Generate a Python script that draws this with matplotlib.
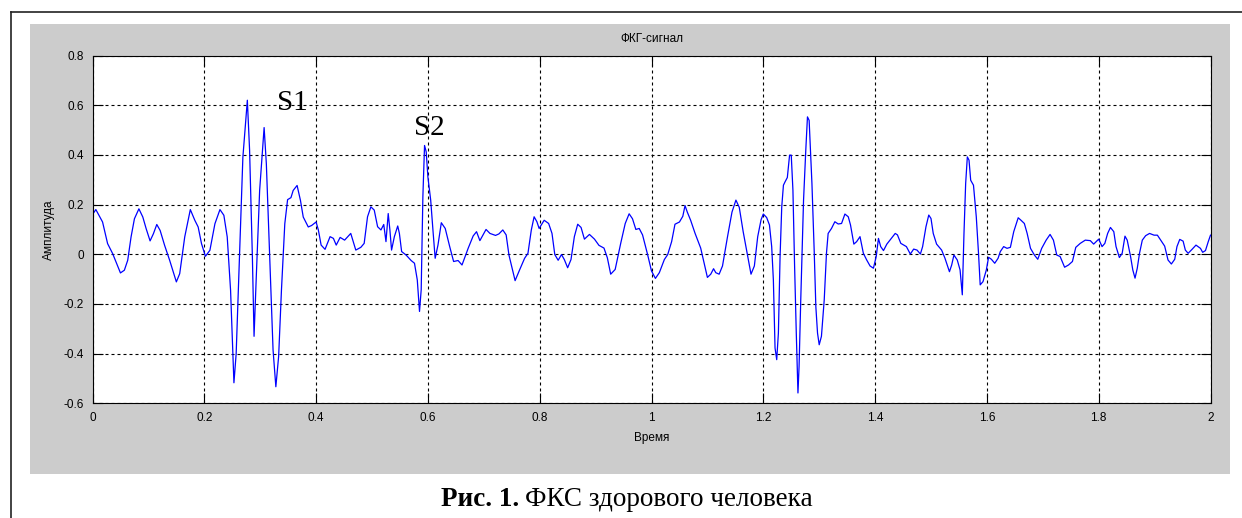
import matplotlib
matplotlib.use("Agg")
import matplotlib.pyplot as plt
from matplotlib.patches import Rectangle
from matplotlib.lines import Line2D

# PCG signal (time in s, amplitude)
time = [0, 0.006, 0.018, 0.027, 0.036, 0.042, 0.05, 0.057, 0.063, 0.069, 0.075, 0.083, 0.09, 0.096,
        0.103, 0.109, 0.115, 0.121, 0.129, 0.138, 0.15, 0.156, 0.165, 0.175, 0.183, 0.189, 0.195,
        0.202, 0.21, 0.219, 0.228, 0.235, 0.241, 0.247, 0.253, 0.257, 0.263, 0.269, 0.277, 0.281,
        0.286, 0.289, 0.293, 0.299, 0.307, 0.311, 0.317, 0.323, 0.328, 0.333, 0.338, 0.344, 0.349,
        0.355, 0.359, 0.366, 0.372, 0.377, 0.386, 0.392, 0.4,
        0.404, 0.409, 0.416, 0.425, 0.431, 0.436, 0.443, 0.451, 0.462, 0.471, 0.48, 0.486, 0.492,
        0.498, 0.504, 0.51, 0.516, 0.521, 0.525, 0.529, 0.532, 0.535, 0.54, 0.546, 0.549, 0.553,
        0.561, 0.57, 0.576, 0.581, 0.585, 0.588, 0.591, 0.594, 0.597, 0.6, 0.605, 0.609, 0.613,
        0.618, 0.624, 0.631, 0.639, 0.646, 0.654, 0.661, 0.672, 0.681, 0.687, 0.693, 0.704, 0.711,
        0.721, 0.727, 0.734, 0.74, 0.745, 0.756, 0.764, 0.773, 0.779, 0.785, 0.79, 0.795, 0.799,
        0.808, 0.816, 0.822, 0.827, 0.833, 0.839, 0.844, 0.85, 0.856, 0.862, 0.868, 0.874, 0.88,
        0.889, 0.898, 0.906, 0.915, 0.921, 0.927, 0.935, 0.945, 0.953, 0.96, 0.966, 0.972, 0.978,
        0.984, 0.993, 1.0, 1.007, 1.014, 1.023, 1.029, 1.036, 1.042, 1.05, 1.056, 1.06, 1.064,
        1.07, 1.078, 1.088, 1.094, 1.1, 1.106, 1.111, 1.115, 1.121, 1.127, 1.136, 1.144, 1.151,
        1.157, 1.164, 1.172, 1.178, 1.184, 1.19, 1.196,
        1.2, 1.206, 1.211, 1.215, 1.218, 1.221, 1.224, 1.227, 1.23, 1.233, 1.236, 1.239, 1.243,
        1.247, 1.25, 1.253, 1.256, 1.259, 1.262, 1.264, 1.267, 1.272, 1.276, 1.279, 1.282, 1.287,
        1.291, 1.294, 1.297, 1.3, 1.304, 1.309, 1.313, 1.316, 1.322, 1.328, 1.334, 1.34, 1.346,
        1.352, 1.356, 1.362, 1.367, 1.373, 1.379, 1.385, 1.391, 1.397, 1.402, 1.406, 1.41, 1.415,
        1.421, 1.429, 1.436, 1.44, 1.446, 1.456, 1.463, 1.469, 1.475, 1.481, 1.485, 1.491, 1.496,
        1.5, 1.504, 1.51, 1.519, 1.525, 1.533, 1.537, 1.541, 1.547, 1.552, 1.556, 1.559, 1.562,
        1.565, 1.568, 1.571, 1.576, 1.581, 1.585, 1.588, 1.593, 1.599,
        1.603, 1.608, 1.614, 1.62, 1.624, 1.63, 1.636, 1.642, 1.648, 1.656, 1.661, 1.667, 1.672,
        1.678, 1.685, 1.691, 1.698, 1.706, 1.713, 1.719, 1.725, 1.731, 1.739, 1.746, 1.753, 1.759,
        1.767, 1.776, 1.785, 1.791, 1.8, 1.806, 1.811, 1.816, 1.821, 1.827, 1.831, 1.837, 1.842,
        1.847, 1.851, 1.857, 1.861, 1.865, 1.869, 1.873, 1.878, 1.884, 1.891, 1.899, 1.905, 1.911,
        1.918, 1.924, 1.93, 1.936, 1.94, 1.945, 1.951, 1.955, 1.96, 1.967, 1.974, 1.982, 1.986,
        1.991, 1.996, 2.0]
amplitude = [0.16, 0.18, 0.13, 0.043, 0.003, -0.03, -0.075, -0.064, -0.024, 0.07, 0.143, 0.183, 0.15, 0.103,
             0.054, 0.083, 0.12, 0.096, 0.036, -0.024, -0.111, -0.078, 0.07, 0.18, 0.137, 0.11, 0.043,
             -0.008, 0.016, 0.123, 0.18, 0.157, 0.07, -0.145, -0.517, -0.4, -0.01, 0.39, 0.62, 0.42,
             -0.01, -0.33, -0.09, 0.257, 0.51, 0.364, -0.01, -0.385, -0.533, -0.41, -0.145, 0.123, 0.22,
             0.228, 0.257, 0.277, 0.217, 0.15, 0.11, 0.116, 0.13,
             0.098, 0.037, 0.02, 0.071, 0.064, 0.037, 0.068, 0.057, 0.084, 0.017, 0.028, 0.044, 0.151,
             0.191, 0.178, 0.111, 0.098, 0.12, 0.051, 0.164, 0.098, 0.017, 0.071, 0.114, 0.084, 0.011,
             -0.003, -0.025, -0.036, -0.103, -0.23, -0.143, 0.231, 0.438, 0.412, 0.311, 0.218, 0.098, -0.016,
             0.037, 0.127, 0.104, 0.031, -0.029, -0.025, -0.043, 0.024, 0.074, 0.091, 0.055, 0.1, 0.084,
             0.076, 0.082, 0.098, 0.078, -0.003, -0.106, -0.063, -0.016, 0.004, 0.098, 0.151, 0.131, 0.104,
             0.137, 0.124, 0.084, -0.001, -0.024, -0.001, -0.021, -0.054, -0.021, 0.071, 0.121, 0.108, 0.061,
             0.08, 0.061, 0.036, 0.025, -0.014, -0.08, -0.061, 0.045, 0.124, 0.163, 0.143, 0.1, 0.104,
             0.078, -0.001, -0.067, -0.097, -0.074, -0.021, -0.001, 0.051, 0.121, 0.13, 0.153, 0.196, 0.17,
             0.137, 0.084, 0.025, -0.034, -0.093, -0.08, -0.058, -0.074, -0.08, -0.047, 0.071, 0.17, 0.218,
             0.189, 0.091, -0.008, -0.08, -0.047, 0.071, 0.139,
             0.162, 0.148, 0.118, 0.031, -0.103, -0.377, -0.424, -0.317, -0.009, 0.191, 0.278, 0.292, 0.309,
             0.399, 0.399, 0.258, -0.049, -0.317, -0.558, -0.451, -0.183, 0.218, 0.419, 0.553, 0.539, 0.285,
             0.017, -0.211, -0.317, -0.364, -0.33, -0.183, 0.004, 0.084, 0.104, 0.131, 0.122, 0.124, 0.162,
             0.151, 0.118, 0.041, 0.051, 0.071, 0.004, -0.023, -0.047, -0.056, -0.009, 0.064, 0.031, 0.015,
             0.041, 0.064, 0.084, 0.078, 0.044, 0.031, 0.001, 0.021, 0.017, 0.001, 0.031, 0.111, 0.158,
             0.144, 0.084, 0.041, 0.017, -0.016, -0.07, -0.043, -0.003, -0.023, -0.063, -0.163, 0.084, 0.285,
             0.392, 0.379, 0.298, 0.278, 0.151, 0.004, -0.123, -0.11, -0.063,
             -0.012, -0.02, -0.036, -0.016, 0.011, 0.031, 0.024, 0.028, 0.091, 0.147, 0.137, 0.124, 0.084,
             0.024, -0.003, -0.02, 0.024, 0.057, 0.08, 0.057, -0.003, -0.009, -0.052, -0.043, -0.029, 0.028,
             0.044, 0.057, 0.055, 0.041, 0.061, 0.031, 0.044, 0.084, 0.108, 0.091, 0.031, -0.013, 0.004,
             0.073, 0.057, -0.009, -0.063, -0.096, -0.056, 0.004, 0.057, 0.075, 0.084, 0.077, 0.077, 0.057,
             0.033, -0.023, -0.039, -0.02, 0.031, 0.06, 0.053, 0.017, 0.004, 0.02, 0.037, 0.024, 0.008,
             0.015, 0.051, 0.077]

xticks = [0, 0.2, 0.4, 0.6, 0.8, 1.0, 1.2, 1.4, 1.6, 1.8, 2.0]
xtick_labels = ['0', '0.2', '0.4', '0.6', '0.8', '1', '1.2', '1.4', '1.6', '1.8', '2']
yticks = [-0.6, -0.4, -0.2, 0, 0.2, 0.4, 0.6, 0.8]
ytick_labels = ['-0.6', '-0.4', '-0.2', '0', '0.2', '0.4', '0.6', '0.8']

# peak annotations (label, time, amplitude)
peak_labels = ['S1', 'S2']
peak_t = [0.358, 0.603]
peak_a = [0.609, 0.508]

title = 'ФКГ-сигнал'
xlabel = 'Время'
ylabel = 'Амплитуда'
caption_bold = 'Рис. 1.'
caption_rest = 'ФКС здорового человека'

W, H = 1242, 518
plt.rcParams['font.family'] = ['Liberation Sans', 'DejaVu Sans']
plt.rcParams['axes.unicode_minus'] = False

fig = plt.figure(figsize=(W / 100, H / 100), dpi=100, facecolor='white')

def fx(px):
    return px / W

def fy(py):
    return 1 - py / H

# grey matlab figure background and the page frame
fig.patches.append(Rectangle((fx(30), fy(474)), fx(1230) - fx(30), (474 - 24) / H,
                             transform=fig.transFigure, facecolor='#cccccc', edgecolor='none', zorder=-5))
fig.add_artist(Line2D([fx(11), fx(11)], [fy(12), 0], color='#222222', lw=1.2))
fig.add_artist(Line2D([fx(11), 1], [fy(12), fy(12)], color='#222222', lw=1.2))

ax = fig.add_axes([fx(92.5), fy(403.4), (1210.5 - 92.5) / W, (403.4 - 55.5) / H])
ax.set_facecolor('white')
ax.plot(time, amplitude, color=(0, 0, 1), lw=0.9)
ax.set_xlim(0, 2)
ax.set_ylim(-0.6, 0.8)
ax.set_xticks(xticks, xtick_labels)
ax.set_yticks(yticks, ytick_labels)
ax.grid(True, color='black', linestyle=(0, (2.7, 2.7)), linewidth=0.8)
ax.tick_params(direction='in', length=7.5, width=0.8, top=True, right=True,
               labelsize=8.5, pad=6, colors='black')
for sp in ax.spines.values():
    sp.set_linewidth(0.8)
    sp.set_color('black')

ax.set_xlabel(xlabel, fontsize=8.5, va='top')
ax.xaxis.set_label_coords(0.5, -0.082)
ax.set_ylabel(ylabel, fontsize=8.5)
ax.yaxis.set_label_coords(-0.034, 0.5)
fig.text(fx(651.5), fy(39), title, fontsize=8.5, ha='center', va='center')

for lab, t, a in zip(peak_labels, peak_t, peak_a):
    ax.text(t, a, lab, family='Liberation Serif', fontsize=21, ha='center', va='center')

cap = fig.text(fx(441), fy(512), caption_bold, family='Liberation Serif', fontsize=19.5,
               fontweight='bold', ha='left', va='bottom')
fig.add_artist(plt.Annotation(caption_rest, xy=(1, 0), xycoords=cap, xytext=(4, 0),
                              textcoords='offset points', family='Liberation Serif',
                              fontsize=19.5, ha='left', va='bottom'))

fig.savefig('out.png', dpi=100, facecolor='white')
